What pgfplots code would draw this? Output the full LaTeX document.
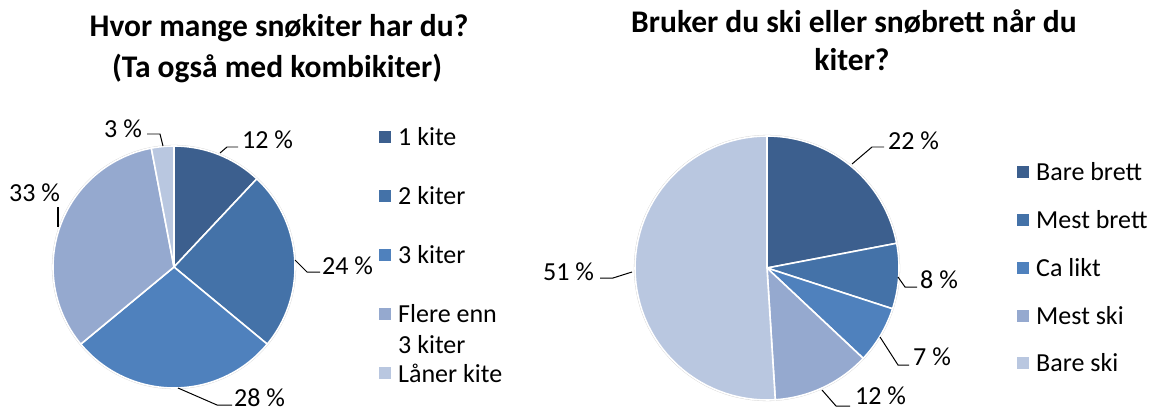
\documentclass[border=0pt]{standalone}
\usepackage{pgfplots}
\usepackage{pgfplotstable}
\pgfplotsset{compat=1.18}
\usepackage{fontspec}
\setmainfont{Carlito}
\definecolor{c1}{RGB}{60,95,142}
\definecolor{c2}{RGB}{68,114,168}
\definecolor{c3}{RGB}{79,129,189}
\definecolor{c4}{RGB}{149,169,207}
\definecolor{c5}{RGB}{185,199,224}

% Left pie: Hvor mange snøkiter har du?
\pgfplotstableread{
v
12
24
28
33
3
}\tabL
% Right pie: Bruker du ski eller snøbrett når du kiter?
\pgfplotstableread{
v
22
8
7
12
51
}\tabR

\newcommand\getv[3]{\pgfplotstablegetelem{#2}{v}\of#1\global\let#3\pgfplotsretval}
\getv\tabL{0}\La \getv\tabL{1}\Lb \getv\tabL{2}\Lc \getv\tabL{3}\Ld \getv\tabL{4}\Le
\getv\tabR{0}\Ra \getv\tabR{1}\Rb \getv\tabR{2}\Rc \getv\tabR{3}\Rd \getv\tabR{4}\Re
\pgfmathsetmacro\LA{3.6*\La}
\pgfmathsetmacro\LB{\LA+3.6*\Lb}
\pgfmathsetmacro\LC{\LB+3.6*\Lc}
\pgfmathsetmacro\LD{\LC+3.6*\Ld}
\pgfmathsetmacro\LE{\LD+3.6*\Le}
\pgfmathsetmacro\RA{3.6*\Ra}
\pgfmathsetmacro\RB{\RA+3.6*\Rb}
\pgfmathsetmacro\RC{\RB+3.6*\Rc}
\pgfmathsetmacro\RD{\RC+3.6*\Rd}
\pgfmathsetmacro\RE{\RD+3.6*\Re}

% cx, cy, r, start, end, colour
\newcommand\slice[6]{%
  \addplot[fill=#6, draw=white, line width=1.6pt, domain=#4:#5, samples=60, variable=\t]
    ({#1+#3*sin(\t)},{#2-#3*cos(\t)}) -- (axis cs:#1,#2) -- cycle;}
\newcommand\rim[3]{%
  \addplot[draw=black!18, line width=2.2pt, domain=0:360, samples=150, variable=\t]
    ({#1+#3*sin(\t)},{#2-#3*cos(\t)});}

\tikzset{
  lbl/.style={font=\fontsize{26bp}{30bp}\selectfont, inner sep=0pt, anchor=west},
  ttl/.style={font=\fontsize{31.5bp}{36bp}\selectfont\bfseries, inner sep=0pt},
  sq/.style={minimum size=12bp, inner sep=0pt},
}

\begin{document}
\begin{tikzpicture}
\begin{axis}[
  width=1159bp, height=412bp, scale only axis,
  xmin=0, xmax=1159, ymin=0, ymax=412, y dir=reverse,
  hide axis, clip=false,
]
\path (axis cs:0,0) -- (axis cs:1159,412);
% ---------------- left pie ----------------
\rim{174}{267}{121}
\slice{174}{267}{121}{0}{\LA}{c1}
\slice{174}{267}{121}{\LA}{\LB}{c2}
\slice{174}{267}{121}{\LB}{\LC}{c3}
\slice{174}{267}{121}{\LC}{\LD}{c4}
\slice{174}{267}{121}{\LD}{\LE}{c5}
\node[ttl] at (axis cs:279,28) {Hvor mange snøkiter har du?};
\node[ttl] at (axis cs:277,68) {(Ta også med kombikiter)};
% data labels
\draw[line width=1pt] (axis cs:220,153) -- (axis cs:227,147) -- (axis cs:238,147);
\node[lbl] at (axis cs:242,140) {12 \%};
\draw[line width=1pt] (axis cs:295,260) -- (axis cs:307,272) -- (axis cs:320,272);
\node[lbl] at (axis cs:322,266) {24 \%};
\draw[line width=1pt] (axis cs:178,388) -- (axis cs:217,405) -- (axis cs:232,405);
\node[lbl] at (axis cs:234,398) {28 \%};
\draw[line width=1.5pt] (axis cs:58,207) -- (axis cs:58,227);
\node[lbl] at (axis cs:9,193) {33 \%};
\draw[line width=1pt] (axis cs:147,134) -- (axis cs:160,134) -- (axis cs:163,146);
\node[lbl] at (axis cs:104,129) {3 \%};
% legend
\node[sq, fill=c1] at (axis cs:384.5,137) {};
\node[lbl] at (axis cs:398,137) {1 kite};
\node[sq, fill=c2] at (axis cs:384.5,196) {};
\node[lbl] at (axis cs:398,196) {2 kiter};
\node[sq, fill=c3] at (axis cs:384.5,255) {};
\node[lbl] at (axis cs:398,255) {3 kiter};
\node[sq, fill=c4] at (axis cs:384.5,314) {};
\node[lbl] at (axis cs:398,314) {Flere enn};
\node[lbl] at (axis cs:398,345) {3 kiter};
\node[sq, fill=c5] at (axis cs:384.5,373) {};
\node[lbl] at (axis cs:398,373) {Låner kite};
% ---------------- right pie ----------------
\rim{767}{268}{132}
\slice{767}{268}{132}{0}{\RA}{c1}
\slice{767}{268}{132}{\RA}{\RB}{c2}
\slice{767}{268}{132}{\RB}{\RC}{c3}
\slice{767}{268}{132}{\RC}{\RD}{c4}
\slice{767}{268}{132}{\RD}{\RE}{c5}
\node[ttl] at (axis cs:854,22) {Bruker du ski eller snøbrett når du};
\node[ttl] at (axis cs:852,60) {kiter?};
\draw[line width=1pt] (axis cs:852,164) -- (axis cs:872,147) -- (axis cs:884,147);
\node[lbl] at (axis cs:888,141) {22 \%};
\draw[line width=1pt] (axis cs:898,277) -- (axis cs:905,287) -- (axis cs:917,287);
\node[lbl] at (axis cs:920,280) {8 \%};
\draw[line width=1pt] (axis cs:880,337) -- (axis cs:898,365) -- (axis cs:909,365);
\node[lbl] at (axis cs:913,357) {7 \%};
\draw[line width=1pt] (axis cs:822,390) -- (axis cs:836,406) -- (axis cs:850,406);
\node[lbl] at (axis cs:855,396) {12 \%};
\draw[line width=1pt] (axis cs:632,272) -- (axis cs:613,278) -- (axis cs:600,278);
\node[lbl] at (axis cs:543,272) {51 \%};
% legend
\node[sq, fill=c1] at (axis cs:1023,172) {};
\node[lbl] at (axis cs:1036,172) {Bare brett};
\node[sq, fill=c2] at (axis cs:1023,220) {};
\node[lbl] at (axis cs:1036,220) {Mest brett};
\node[sq, fill=c3] at (axis cs:1023,268) {};
\node[lbl] at (axis cs:1036,268) {Ca likt};
\node[sq, fill=c4] at (axis cs:1023,316) {};
\node[lbl] at (axis cs:1036,316) {Mest ski};
\node[sq, fill=c5] at (axis cs:1023,363) {};
\node[lbl] at (axis cs:1036,363) {Bare ski};
\end{axis}
\end{tikzpicture}
\end{document}
